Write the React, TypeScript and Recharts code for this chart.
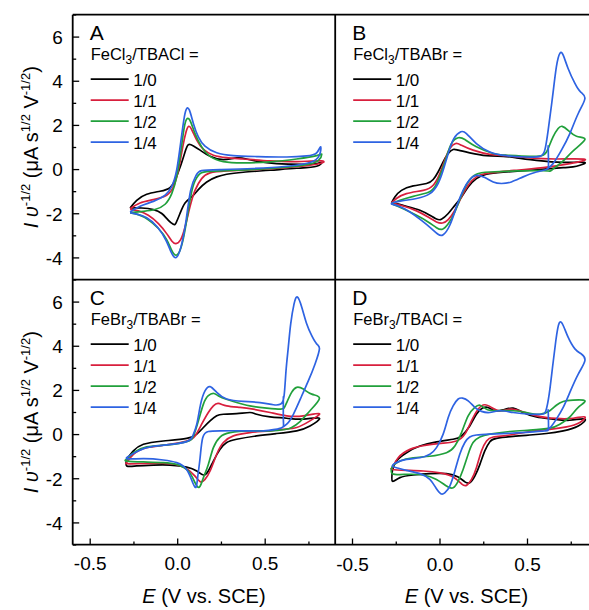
import React from 'react';
import { ComposedChart, Line, XAxis, YAxis } from 'recharts';

type Pt = [number, number]; // [E (V vs. SCE), I v^-1/2]

// A: FeCl3/TBACl
const a10: Pt[] = [
  [-0.272, -1.74], [-0.234, -1.39], [-0.177, -1.12], [-0.101, -0.98], [-0.044, -0.82], [-0.015, -0.48],
  [0.013, 0.09], [0.042, 0.8], [0.061, 1.13], [0.09, 1.07], [0.128, 0.88], [0.185, 0.6], [0.261, 0.45],
  [0.337, 0.53], [0.394, 0.48], [0.451, 0.38], [0.566, 0.27], [0.718, 0.24], [0.794, 0.27], [0.823, 0.33],
  [0.794, 0.15], [0.68, 0.06], [0.528, -0.03], [0.375, -0.12], [0.28, -0.21], [0.223, -0.33], [0.166, -0.56],
  [0.118, -0.91], [0.08, -1.24], [0.042, -1.51], [0.013, -1.99], [-0.01, -2.42], [-0.025, -2.48],
  [-0.053, -2.3], [-0.091, -1.99], [-0.139, -1.81], [-0.206, -1.74], [-0.272, -1.74],
];
const a11: Pt[] = [
  [-0.272, -1.77], [-0.215, -1.51], [-0.139, -1.36], [-0.063, -1.16], [-0.025, -0.79], [0.004, -0.03],
  [0.029, 1.03], [0.048, 1.71], [0.063, 1.96], [0.082, 1.78], [0.109, 1.33], [0.147, 0.91], [0.204, 0.65],
  [0.28, 0.54], [0.375, 0.48], [0.528, 0.39], [0.68, 0.36], [0.823, 0.39],
  [0.794, 0.24], [0.623, 0.09], [0.432, 0.0], [0.28, -0.06], [0.185, -0.15], [0.137, -0.41], [0.099, -0.94],
  [0.07, -1.69], [0.042, -2.6], [0.017, -3.17], [-0.01, -3.35], [-0.034, -3.23], [-0.063, -2.9],
  [-0.11, -2.45], [-0.168, -2.07], [-0.225, -1.87], [-0.272, -1.8],
];
const a12: Pt[] = [
  [-0.272, -1.95], [-0.196, -1.89], [-0.13, -1.81], [-0.072, -1.57], [-0.034, -1.09], [-0.006, -0.33],
  [0.019, 0.88], [0.038, 1.93], [0.055, 2.31], [0.074, 2.16], [0.099, 1.63], [0.137, 1.03], [0.185, 0.6],
  [0.261, 0.36], [0.375, 0.3], [0.528, 0.35], [0.68, 0.48], [0.794, 0.63], [0.823, 0.69],
  [0.804, 0.42], [0.718, 0.2], [0.528, 0.05], [0.337, -0.03], [0.185, -0.08], [0.128, -0.18], [0.093, -0.63],
  [0.067, -1.54], [0.038, -2.9], [0.013, -3.66], [-0.01, -3.88], [-0.034, -3.66], [-0.063, -3.17],
  [-0.11, -2.67], [-0.168, -2.27], [-0.225, -2.04], [-0.272, -1.96],
];
const a14: Pt[] = [
  [-0.272, -1.92], [-0.215, -1.66], [-0.139, -1.44], [-0.072, -1.16], [-0.034, -0.76], [-0.006, -0.03],
  [0.019, 1.33], [0.038, 2.39], [0.051, 2.76], [0.067, 2.69], [0.09, 2.08], [0.118, 1.48], [0.156, 1.06],
  [0.223, 0.76], [0.318, 0.63], [0.451, 0.59], [0.623, 0.57], [0.737, 0.62], [0.794, 0.76], [0.817, 1.03],
  [0.81, 0.65], [0.756, 0.32], [0.623, 0.15], [0.432, 0.05], [0.242, 0.0], [0.137, -0.05], [0.105, -0.26],
  [0.074, -0.94], [0.048, -2.3], [0.019, -3.5], [-0.01, -3.99], [-0.038, -3.73], [-0.067, -3.2],
  [-0.116, -2.6], [-0.177, -2.18], [-0.234, -2.02], [-0.272, -1.95],
];

// B: FeCl3/TBABr
const b10: Pt[] = [
  [-0.277, -1.51], [-0.258, -1.24], [-0.22, -0.94], [-0.153, -0.74], [-0.077, -0.63], [-0.039, -0.45],
  [-0.011, -0.11], [0.018, 0.35], [0.047, 0.73], [0.075, 0.91], [0.104, 0.88], [0.17, 0.76], [0.266, 0.63],
  [0.361, 0.6], [0.437, 0.53], [0.551, 0.42], [0.704, 0.33], [0.828, 0.32],
  [0.78, 0.15], [0.704, 0.09], [0.513, -0.03], [0.361, -0.12], [0.266, -0.21], [0.208, -0.41], [0.161, -0.79],
  [0.123, -1.24], [0.085, -1.62], [0.047, -1.99], [0.008, -2.25], [-0.02, -2.24], [-0.058, -2.07],
  [-0.115, -1.84], [-0.192, -1.66], [-0.249, -1.54], [-0.277, -1.51],
];
const b11: Pt[] = [
  [-0.277, -1.51], [-0.249, -1.31], [-0.192, -1.09], [-0.096, -0.94], [-0.039, -0.71], [-0.001, -0.18],
  [0.027, 0.42], [0.056, 0.95], [0.09, 1.18], [0.123, 1.1], [0.189, 0.88], [0.285, 0.69], [0.38, 0.63],
  [0.513, 0.53], [0.665, 0.48], [0.828, 0.47],
  [0.742, 0.27], [0.589, 0.09], [0.437, -0.03], [0.285, -0.15], [0.208, -0.33], [0.161, -0.71], [0.123, -1.24],
  [0.085, -1.84], [0.047, -2.27], [0.014, -2.42], [-0.02, -2.37], [-0.068, -2.15], [-0.134, -1.87],
  [-0.21, -1.65], [-0.277, -1.51],
];
const b12: Pt[] = [
  [-0.277, -1.54], [-0.229, -1.39], [-0.153, -1.21], [-0.077, -1.06], [-0.03, -0.79], [0.008, -0.11],
  [0.037, 0.57], [0.066, 1.18], [0.104, 1.44], [0.142, 1.36], [0.208, 1.03], [0.304, 0.73], [0.38, 0.65],
  [0.513, 0.6], [0.589, 0.65], [0.618, 0.95], [0.646, 1.48], [0.675, 1.86], [0.698, 1.96], [0.732, 1.78],
  [0.78, 1.51], [0.828, 1.36],
  [0.761, 0.85], [0.704, 0.39], [0.656, 0.09], [0.631, -0.06], [0.589, -0.05], [0.437, -0.06], [0.285, -0.11],
  [0.208, -0.21], [0.161, -0.56], [0.123, -1.16], [0.085, -1.92], [0.047, -2.45], [0.014, -2.7],
  [-0.02, -2.63], [-0.068, -2.37], [-0.134, -2.07], [-0.21, -1.77], [-0.277, -1.54],
];
const b14: Pt[] = [
  [0.618, 1.1], [0.62, 0.27], [0.608, 0.0], [0.551, -0.11], [0.475, -0.33], [0.408, -0.56], [0.351, -0.63],
  [0.304, -0.56], [0.256, -0.36], [0.208, -0.26], [0.17, -0.45], [0.132, -0.94], [0.094, -1.69],
  [0.056, -2.52], [0.018, -2.95], [-0.011, -2.93], [-0.049, -2.67], [-0.106, -2.3], [-0.172, -1.92],
  [-0.239, -1.65], [-0.277, -1.54],
  [-0.22, -1.42], [-0.134, -1.31], [-0.058, -1.09], [-0.011, -0.63], [0.018, -0.03], [0.047, 0.73],
  [0.079, 1.4], [0.119, 1.71], [0.151, 1.63], [0.208, 1.18], [0.285, 0.8], [0.38, 0.63], [0.494, 0.57],
  [0.57, 0.6], [0.599, 0.88], [0.618, 1.78], [0.643, 3.29], [0.665, 4.65], [0.685, 5.26], [0.704, 5.18],
  [0.732, 4.58], [0.771, 3.9], [0.803, 3.52], [0.828, 3.22],
  [0.79, 2.54], [0.742, 1.63], [0.694, 0.88], [0.646, 0.27], [0.608, 0.0],
];

// C: FeBr3/TBABr
const c10: Pt[] = [
  [-0.291, -1.12], [-0.253, -0.74], [-0.196, -0.44], [-0.082, -0.29], [0.051, -0.17], [0.109, 0.02],
  [0.147, 0.32], [0.185, 0.62], [0.223, 0.85], [0.261, 0.92], [0.337, 0.95], [0.413, 1.0], [0.451, 0.92],
  [0.528, 0.8], [0.623, 0.74], [0.718, 0.7], [0.81, 0.74],
  [0.756, 0.39], [0.68, 0.17], [0.566, 0.05], [0.451, -0.06], [0.337, -0.21], [0.28, -0.36], [0.242, -0.67],
  [0.204, -1.2], [0.175, -1.65], [0.147, -1.83], [0.109, -1.65], [0.051, -1.47], [-0.044, -1.38],
  [-0.139, -1.38], [-0.234, -1.42], [-0.291, -1.42], [-0.291, -1.12],
];
const c11: Pt[] = [
  [-0.291, -1.27], [-0.253, -0.89], [-0.177, -0.59], [-0.063, -0.47], [0.051, -0.29], [0.099, -0.06],
  [0.137, 0.47], [0.175, 1.0], [0.204, 1.3], [0.232, 1.41], [0.28, 1.3], [0.356, 1.23], [0.432, 1.15],
  [0.528, 1.0], [0.623, 0.85], [0.718, 0.85], [0.81, 0.95],
  [0.756, 0.62], [0.68, 0.32], [0.604, 0.24], [0.528, 0.17], [0.413, 0.09], [0.318, -0.06], [0.261, -0.36],
  [0.223, -0.89], [0.185, -1.65], [0.156, -2.03], [0.131, -2.14], [0.099, -1.88], [0.042, -1.5],
  [-0.044, -1.32], [-0.139, -1.3], [-0.234, -1.32], [-0.291, -1.32], [-0.291, -1.27],
];
const c12: Pt[] = [
  [-0.291, -1.12], [-0.253, -0.82], [-0.177, -0.56], [-0.063, -0.47], [0.051, -0.32], [0.09, -0.06],
  [0.118, 0.62], [0.147, 1.38], [0.175, 1.76], [0.208, 1.86], [0.242, 1.71], [0.318, 1.5], [0.413, 1.3],
  [0.509, 1.2], [0.585, 1.15], [0.608, 1.2], [0.623, 1.45], [0.651, 1.91], [0.68, 2.14], [0.718, 2.06],
  [0.766, 1.83], [0.81, 1.64],
  [0.756, 1.08], [0.699, 0.59], [0.651, 0.32], [0.613, 0.23], [0.528, 0.17], [0.413, 0.17], [0.299, 0.09],
  [0.242, -0.11], [0.204, -0.59], [0.175, -1.35], [0.147, -1.95], [0.124, -2.38], [0.099, -2.18],
  [0.061, -1.65], [-0.006, -1.35], [-0.082, -1.27], [-0.196, -1.24], [-0.291, -1.2], [-0.291, -1.12],
];
const c14: Pt[] = [
  [0.604, 1.73], [0.604, 0.62], [0.589, 0.29], [0.49, 0.17], [0.375, 0.17], [0.242, 0.17], [0.175, 0.14],
  [0.143, -0.14], [0.128, -1.05], [0.114, -1.95], [0.105, -2.38], [0.086, -2.18], [0.051, -1.58],
  [-0.006, -1.27], [-0.082, -1.15], [-0.196, -1.09], [-0.291, -1.09],
  [-0.253, -0.86], [-0.177, -0.59], [-0.063, -0.47], [0.051, -0.32], [0.086, -0.06], [0.109, 0.47],
  [0.131, 1.38], [0.156, 1.98], [0.185, 2.17], [0.223, 1.91], [0.28, 1.61], [0.375, 1.5], [0.47, 1.45],
  [0.547, 1.35], [0.589, 1.38], [0.608, 1.76], [0.619, 2.89], [0.632, 3.95], [0.646, 5.02], [0.665, 5.92],
  [0.684, 6.23], [0.709, 5.77], [0.737, 5.02], [0.766, 4.48], [0.794, 4.11], [0.81, 3.88],
  [0.785, 3.2], [0.747, 2.44], [0.709, 1.76], [0.661, 0.92], [0.623, 0.47], [0.589, 0.29],
];

// D: FeBr3/TBACl
const d10: Pt[] = [
  [-0.272, -1.62], [-0.249, -1.2], [-0.191, -0.82], [-0.115, -0.52], [-0.02, -0.33], [0.075, -0.21],
  [0.123, -0.06], [0.17, 0.39], [0.208, 0.92], [0.243, 1.2], [0.275, 1.23], [0.313, 1.08], [0.361, 1.12],
  [0.418, 1.2], [0.475, 1.0], [0.551, 0.8], [0.646, 0.7], [0.742, 0.65], [0.828, 0.7],
  [0.79, 0.39], [0.704, 0.17], [0.608, 0.05], [0.513, -0.02], [0.418, -0.08], [0.323, -0.17], [0.285, -0.32],
  [0.256, -0.74], [0.228, -1.35], [0.199, -1.88], [0.17, -2.18], [0.142, -2.14], [0.104, -1.92],
  [0.037, -1.77], [-0.058, -1.77], [-0.153, -1.83], [-0.229, -1.95], [-0.272, -2.11], [-0.272, -1.62],
];
const d11: Pt[] = [
  [-0.272, -1.5], [-0.239, -1.05], [-0.172, -0.67], [-0.077, -0.48], [0.018, -0.39], [0.094, -0.29],
  [0.142, 0.02], [0.18, 0.62], [0.218, 1.15], [0.256, 1.35], [0.294, 1.23], [0.342, 1.08], [0.399, 1.15],
  [0.456, 1.08], [0.551, 0.85], [0.665, 0.73], [0.761, 0.74], [0.828, 0.8],
  [0.799, 0.55], [0.723, 0.35], [0.627, 0.24], [0.513, 0.14], [0.399, -0.02], [0.304, -0.11], [0.266, -0.29],
  [0.237, -0.74], [0.208, -1.5], [0.18, -2.03], [0.151, -2.3], [0.123, -2.23], [0.075, -1.92],
  [-0.001, -1.73], [-0.096, -1.65], [-0.191, -1.62], [-0.272, -1.58], [-0.272, -1.5],
];
const d12: Pt[] = [
  [-0.272, -1.42], [-0.229, -1.2], [-0.153, -1.05], [-0.058, -0.98], [0.037, -0.82], [0.085, -0.52],
  [0.123, 0.09], [0.161, 0.85], [0.199, 1.23], [0.228, 1.33], [0.266, 1.15], [0.323, 1.08], [0.418, 1.08],
  [0.494, 1.0], [0.57, 0.92], [0.627, 1.08], [0.665, 1.33], [0.704, 1.5], [0.761, 1.56], [0.828, 1.53],
  [0.79, 1.23], [0.742, 0.8], [0.685, 0.47], [0.627, 0.29], [0.513, 0.2], [0.399, 0.14], [0.285, 0.02],
  [0.228, -0.11], [0.189, -0.36], [0.161, -0.89], [0.132, -1.58], [0.104, -2.11], [0.075, -2.41],
  [0.037, -2.33], [-0.02, -2.03], [-0.096, -1.83], [-0.191, -1.8], [-0.272, -1.77], [-0.272, -1.42],
];
const d14: Pt[] = [
  [0.618, 1.15], [0.62, 0.32], [0.599, 0.17], [0.513, 0.11], [0.399, 0.06], [0.285, 0.02], [0.208, -0.02],
  [0.17, -0.11], [0.142, -0.36], [0.113, -0.89], [0.085, -1.65], [0.056, -2.33], [0.027, -2.64],
  [0.005, -2.68], [-0.024, -2.41], [-0.058, -2.03], [-0.115, -1.77], [-0.191, -1.62], [-0.249, -1.5],
  [-0.272, -1.42],
  [-0.249, -1.27], [-0.191, -1.12], [-0.115, -1.05], [-0.058, -0.89], [-0.02, -0.59], [0.018, 0.02],
  [0.047, 0.77], [0.075, 1.3], [0.104, 1.61], [0.129, 1.65], [0.161, 1.53], [0.199, 1.23], [0.237, 1.05],
  [0.285, 1.0], [0.342, 1.08], [0.418, 1.0], [0.513, 0.92], [0.58, 0.92], [0.605, 1.08], [0.624, 1.83],
  [0.643, 3.05], [0.662, 4.26], [0.681, 5.05], [0.704, 4.94], [0.732, 4.41], [0.771, 3.88], [0.808, 3.65],
  [0.828, 3.35],
  [0.79, 2.74], [0.742, 1.91], [0.704, 1.23], [0.665, 0.7], [0.627, 0.29], [0.599, 0.17],
];

const ratios = ['1/0', '1/1', '1/2', '1/4'];
const colors = ['#000000', '#d81f3d', '#21a03b', '#2e63e2'];
const xTicks = [-0.5, -0.25, 0, 0.25, 0.5, 0.75];
const yTicks = [-5, -4, -3, -2, -1, 0, 1, 2, 3, 4, 5, 6, 7];

const panels = [
  { letter: 'A', salt: 'Cl', base: '/TBACl =', series: [a10, a11, a12, a14], col: 0, row: 0 },
  { letter: 'B', salt: 'Cl', base: '/TBABr =', series: [b10, b11, b12, b14], col: 1, row: 0 },
  { letter: 'C', salt: 'Br', base: '/TBABr =', series: [c10, c11, c12, c14], col: 0, row: 1 },
  { letter: 'D', salt: 'Br', base: '/TBACl =', series: [d10, d11, d12, d14], col: 1, row: 1 },
];

const FONT = "'Liberation Sans', Arial, Helvetica, sans-serif";
const X0 = 72.7;
const Y0 = 14.7;
const W = 262.5;
const H = 265;
const XAX_H = 66;

const isMajor = (v: number, step: number) => Math.abs(v / step - Math.round(v / step)) < 1e-6;

const XTick = (props: any) => {
  const { x, payload, bottom, showLabel } = props;
  const v = payload.value as number;
  const major = isMajor(v, 0.5);
  return (
    <g>
      <line x1={x} x2={x} y1={bottom} y2={bottom - (major ? 6.5 : 3.5)} stroke="#000" strokeWidth={1.3} />
      {showLabel && major && (
        <text x={x} y={bottom + 25.5} textAnchor="middle" fontSize={19} fontFamily={FONT} fill="#000">
          {v.toFixed(1)}
        </text>
      )}
    </g>
  );
};

const YTick = (props: any) => {
  const { y, payload, left, showLabel } = props;
  const v = payload.value as number;
  const major = isMajor(v, 2);
  return (
    <g>
      <line x1={left} x2={left + (major ? 6.5 : 3.5)} y1={y} y2={y} stroke="#000" strokeWidth={1.3} />
      {showLabel && major && (
        <text x={left - 10} y={y + 6.8} textAnchor="end" fontSize={19} fontFamily={FONT} fill="#000">
          {v}
        </text>
      )}
    </g>
  );
};

const Panel = ({ p }: { p: (typeof panels)[number] }) => {
  const yW = p.col === 0 ? X0 : 0;
  const xH = p.row === 1 ? XAX_H : 0;
  return (
    <div style={{ position: 'absolute', left: X0 + p.col * W - yW, top: Y0 + p.row * H }}>
      <ComposedChart width={yW + W} height={H + xH} margin={{ top: 0, right: 0, bottom: 0, left: 0 }}>
        <XAxis
          type="number"
          dataKey="e"
          domain={[-0.6, 0.9]}
          ticks={xTicks}
          interval={0}
          allowDataOverflow
          height={xH}
          axisLine={false}
          tickLine={false}
          tick={(t: any) => <XTick {...t} bottom={H} showLabel={p.row === 1} />}
        />
        <YAxis
          type="number"
          domain={[-5, 7]}
          ticks={yTicks}
          interval={0}
          allowDataOverflow
          width={yW}
          axisLine={false}
          tickLine={false}
          tick={(t: any) => <YTick {...t} left={yW} showLabel={p.col === 0} />}
        />
        {p.series.map((s, k) => (
          <Line
            key={ratios[k]}
            data={s.map(([e, i]) => ({ e, i }))}
            dataKey="i"
            type="natural"
            stroke={colors[k]}
            strokeWidth={1.7}
            dot={false}
            isAnimationActive={false}
          />
        ))}
      </ComposedChart>
    </div>
  );
};

const Legend = ({ p }: { p: (typeof panels)[number] }) => {
  const lx = X0 + p.col * W;
  const ty = Y0 + p.row * H;
  return (
    <g fontFamily={FONT} fill="#000">
      <text x={lx + 17} y={ty + 25.5} fontSize={21}>{p.letter}</text>
      <text x={lx + 18} y={ty + 45} fontSize={16.5}>
        Fe{p.salt}
        <tspan dy={4} fontSize={12}>3</tspan>
        <tspan dy={-4}>{p.base}</tspan>
      </text>
      {ratios.map((r, k) => {
        const y = ty + 64.5 + k * 21;
        return (
          <g key={r}>
            <line x1={lx + 18} x2={lx + 56} y1={y} y2={y} stroke={colors[k]} strokeWidth={1.8} />
            <text x={lx + 60.5} y={y + 6.5} fontSize={17}>{r}</text>
          </g>
        );
      })}
    </g>
  );
};

const YTitle = ({ cy }: { cy: number }) => (
  <text transform={`translate(37.5 ${cy}) rotate(-90)`} textAnchor="middle" fontFamily={FONT} fontSize={20} fill="#000">
    <tspan fontStyle="italic">I</tspan>
    <tspan> </tspan>
    <tspan fontStyle="italic">υ</tspan>
    <tspan dy={-8} fontSize={13}>-1/2</tspan>
    <tspan dy={8}> (μA s</tspan>
    <tspan dy={-8} fontSize={13}>1/2</tspan>
    <tspan dy={8}> V</tspan>
    <tspan dy={-8} fontSize={13}>-1/2</tspan>
    <tspan dy={8}>)</tspan>
  </text>
);

const XTitle = ({ cx }: { cx: number }) => (
  <text x={cx} y={603} textAnchor="middle" fontFamily={FONT} fontSize={20} fill="#000">
    <tspan fontStyle="italic">E</tspan>
    <tspan> (V vs. SCE)</tspan>
  </text>
);

export default function App() {
  return (
    <div
      style={{
        position: 'fixed',
        left: 0,
        top: 0,
        width: 589,
        height: 610,
        overflow: 'hidden',
        background: '#fff',
      }}
    >
      {panels.map((p) => (
        <Panel key={p.letter} p={p} />
      ))}
      <svg width={589} height={610} style={{ position: 'absolute', left: 0, top: 0, pointerEvents: 'none' }}>
        <g stroke="#000" strokeWidth={1.8}>
          <line x1={X0} x2={600} y1={Y0} y2={Y0} />
          <line x1={X0} x2={600} y1={Y0 + H} y2={Y0 + H} />
          <line x1={X0} x2={600} y1={Y0 + 2 * H} y2={Y0 + 2 * H} />
          <line x1={X0} x2={X0} y1={Y0} y2={Y0 + 2 * H} />
          <line x1={X0 + W} x2={X0 + W} y1={Y0} y2={Y0 + 2 * H} />
        </g>
        {panels.map((p) => (
          <Legend key={p.letter} p={p} />
        ))}
        <YTitle cy={Y0 + H / 2} />
        <YTitle cy={Y0 + H * 1.5} />
        <XTitle cx={X0 + W / 2} />
        <XTitle cx={X0 + W * 1.5} />
      </svg>
    </div>
  );
}
